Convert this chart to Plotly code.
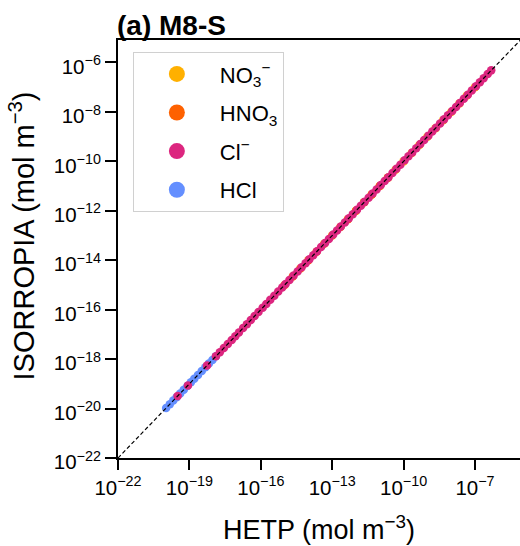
import plotly.graph_objects as go

# ---- data (mol m^-3) ----
species = ["NO<sub>3</sub><sup>−</sup>", "HNO<sub>3</sub>", "Cl<sup>−</sup>", "HCl"]
colors = ["#FFB000", "#FE6100", "#DC267F", "#648FFF"]

no3_hetp = [1.0e-12, 2.2e-12, 4.6e-12, 1.0e-11, 2.2e-11, 4.6e-11, 1.0e-10, 2.2e-10, 4.6e-10, 1.0e-9, 2.2e-9, 4.6e-9, 1.0e-8, 2.2e-8, 4.6e-8, 1.0e-7]
no3_isorropia = [1.0e-12, 2.2e-12, 4.6e-12, 1.0e-11, 2.2e-11, 4.6e-11, 1.0e-10, 2.2e-10, 4.6e-10, 1.0e-9, 2.2e-9, 4.6e-9, 1.0e-8, 2.2e-8, 4.6e-8, 1.0e-7]

hno3_hetp = [1.0e-15, 2.2e-15, 4.6e-15, 1.0e-14, 2.2e-14, 4.6e-14, 1.0e-13, 2.2e-13, 4.6e-13, 1.0e-12, 2.2e-12, 4.6e-12, 1.0e-11, 2.2e-11]
hno3_isorropia = [1.0e-15, 2.2e-15, 4.6e-15, 1.0e-14, 2.2e-14, 4.6e-14, 1.0e-13, 2.2e-13, 4.6e-13, 1.0e-12, 2.2e-12, 4.6e-12, 1.0e-11, 2.2e-11]

cl_hetp = [
    3.2e-20, 8.7e-20, 5.5e-19,
    1.3e-18, 1.9e-18, 2.8e-18, 4.1e-18, 6.0e-18, 8.5e-18,
    1.2e-17, 1.8e-17, 2.6e-17, 3.8e-17, 5.5e-17, 8.0e-17,
    1.2e-16, 1.7e-16, 2.5e-16, 3.7e-16, 5.4e-16, 7.9e-16,
    1.1e-15, 1.6e-15, 2.4e-15, 3.5e-15, 5.2e-15, 7.6e-15,
    1.1e-14, 1.6e-14, 2.3e-14, 3.4e-14, 5.0e-14, 7.3e-14,
    1.1e-13, 1.6e-13, 2.3e-13, 3.4e-13, 5.0e-13, 7.3e-13,
    1.1e-12, 1.6e-12, 2.3e-12, 3.4e-12, 5.0e-12, 7.3e-12,
    1.1e-11, 1.6e-11, 2.3e-11, 3.4e-11, 5.0e-11, 7.3e-11,
    1.1e-10, 1.6e-10, 2.3e-10, 3.4e-10, 5.0e-10, 7.3e-10,
    1.1e-9, 1.6e-9, 2.3e-9, 3.4e-9, 5.0e-9, 7.3e-9,
    1.1e-8, 1.6e-8, 2.3e-8, 3.4e-8, 5.0e-8, 7.3e-8,
    1.1e-7, 1.6e-7, 2.3e-7, 3.4e-7, 4.8e-7,
]
cl_isorropia = [
    3.2e-20, 8.6e-20, 5.5e-19,
    1.3e-18, 1.9e-18, 2.8e-18, 4.1e-18, 6.0e-18, 8.5e-18,
    1.2e-17, 1.8e-17, 2.6e-17, 3.8e-17, 5.5e-17, 8.0e-17,
    1.2e-16, 1.7e-16, 2.5e-16, 3.7e-16, 5.4e-16, 7.9e-16,
    1.1e-15, 1.6e-15, 2.4e-15, 3.5e-15, 5.2e-15, 7.6e-15,
    1.1e-14, 1.6e-14, 2.3e-14, 3.4e-14, 5.0e-14, 7.3e-14,
    1.1e-13, 1.6e-13, 2.3e-13, 3.4e-13, 5.0e-13, 7.3e-13,
    1.1e-12, 1.6e-12, 2.3e-12, 3.4e-12, 5.0e-12, 7.3e-12,
    1.1e-11, 1.6e-11, 2.3e-11, 3.4e-11, 5.0e-11, 7.3e-11,
    1.1e-10, 1.6e-10, 2.3e-10, 3.4e-10, 5.0e-10, 7.3e-10,
    1.1e-9, 1.6e-9, 2.3e-9, 3.4e-9, 5.0e-9, 7.3e-9,
    1.1e-8, 1.6e-8, 2.3e-8, 3.4e-8, 5.0e-8, 7.3e-8,
    1.1e-7, 1.6e-7, 2.3e-7, 3.4e-7, 4.8e-7,
]

hcl_hetp = [1.05e-20, 1.5e-20, 2.1e-20, 2.9e-20, 4.1e-20, 5.8e-20, 8.2e-20, 1.15e-19, 1.6e-19, 2.3e-19, 3.3e-19, 4.7e-19, 6.6e-19, 9.3e-19, 1.3e-18]
hcl_isorropia = [1.05e-20, 1.5e-20, 2.1e-20, 2.9e-20, 4.1e-20, 5.8e-20, 8.2e-20, 1.15e-19, 1.6e-19, 2.3e-19, 3.3e-19, 4.7e-19, 6.6e-19, 9.3e-19, 1.3e-18]

one_to_one = [1e-22, 1e-5]

x_tickvals = [1e-22, 1e-19, 1e-16, 1e-13, 1e-10, 1e-7]
x_ticktext = ["10<sup>−22</sup>", "10<sup>−19</sup>", "10<sup>−16</sup>", "10<sup>−13</sup>", "10<sup>−10</sup>", "10<sup>−7</sup>"]
y_tickvals = [1e-22, 1e-20, 1e-18, 1e-16, 1e-14, 1e-12, 1e-10, 1e-8, 1e-6]
y_ticktext = ["10<sup>−22</sup>", "10<sup>−20</sup>", "10<sup>−18</sup>", "10<sup>−16</sup>", "10<sup>−14</sup>", "10<sup>−12</sup>", "10<sup>−10</sup>", "10<sup>−8</sup>", "10<sup>−6</sup>"]

FONT = "Liberation Sans, Arial, sans-serif"

fig = go.Figure()

# data traces: draw order NO3-, HNO3, HCl, Cl-
series = [
    (no3_hetp, no3_isorropia, colors[0]),
    (hno3_hetp, hno3_isorropia, colors[1]),
    (hcl_hetp, hcl_isorropia, colors[3]),
    (cl_hetp, cl_isorropia, colors[2]),
]
for xs, ys, c in series:
    fig.add_trace(go.Scatter(x=xs, y=ys, mode="markers",
                             marker=dict(size=8.5, color=c, line=dict(width=0)),
                             showlegend=False, hoverinfo="skip"))

# 1:1 line
fig.add_trace(go.Scatter(x=one_to_one, y=one_to_one, mode="lines",
                         line=dict(color="black", width=1.2, dash="4px,2.5px"),
                         showlegend=False, hoverinfo="skip"))

# legend entries
for i, (name, c) in enumerate(zip(species, colors)):
    fig.add_trace(go.Scatter(x=[None], y=[None], mode="markers", name=name,
                             legendgroup=str(i),
                             marker=dict(size=19, color=c)))

fig.update_layout(
    width=520, height=546,
    margin=dict(l=118, r=0, t=40, b=88),
    paper_bgcolor="white", plot_bgcolor="white",
    font=dict(family=FONT, color="black", size=20),
    showlegend=True,
    legend=dict(x=0.037, y=0.971, xanchor="left", yanchor="top",
                bgcolor="white", bordercolor="#d0d0d0", borderwidth=1,
                font=dict(size=22, family=FONT), traceorder="grouped",
                tracegroupgap=7, itemwidth=76),
    xaxis=dict(type="log", range=[-22, -5.11], tickvals=x_tickvals, ticktext=x_ticktext,
               showgrid=False, zeroline=False, showline=True, linecolor="black", linewidth=2,
               mirror=True, ticks="outside", ticklen=10, tickwidth=1.5, tickcolor="black",
               tickfont=dict(size=20.5, family=FONT)),
    yaxis=dict(type="log", range=[-22, -5.09], tickvals=y_tickvals, ticktext=y_ticktext,
               showgrid=False, zeroline=False, showline=True, linecolor="black", linewidth=2,
               ticks="outside", ticklen=11, tickwidth=1.5, tickcolor="black",
               ticklabelshift=4,
               tickfont=dict(size=20.5, family=FONT)),
    annotations=[
        dict(text="<b>(a) M8-S</b>", xref="paper", yref="paper", x=-0.007, y=1.0,
             xanchor="left", yanchor="bottom", yshift=-3, showarrow=False,
             font=dict(size=28, family=FONT)),
        dict(text="HETP (mol m<sup>−3</sup>)", xref="paper", yref="paper", x=0.5, y=0,
             xanchor="center", yanchor="top", yshift=-51, showarrow=False,
             font=dict(size=27, family=FONT)),
        dict(text="ISORROPIA (mol m<sup>−3</sup>)", xref="paper", yref="paper", x=0, y=0.53,
             xanchor="center", yanchor="middle", xshift=-96, textangle=-90, showarrow=False,
             font=dict(size=29, family=FONT)),
    ],
)

fig.write_html("out.html", config={"displayModeBar": False},
               post_script="document.body.style.margin='0';document.body.style.overflow='hidden';")
